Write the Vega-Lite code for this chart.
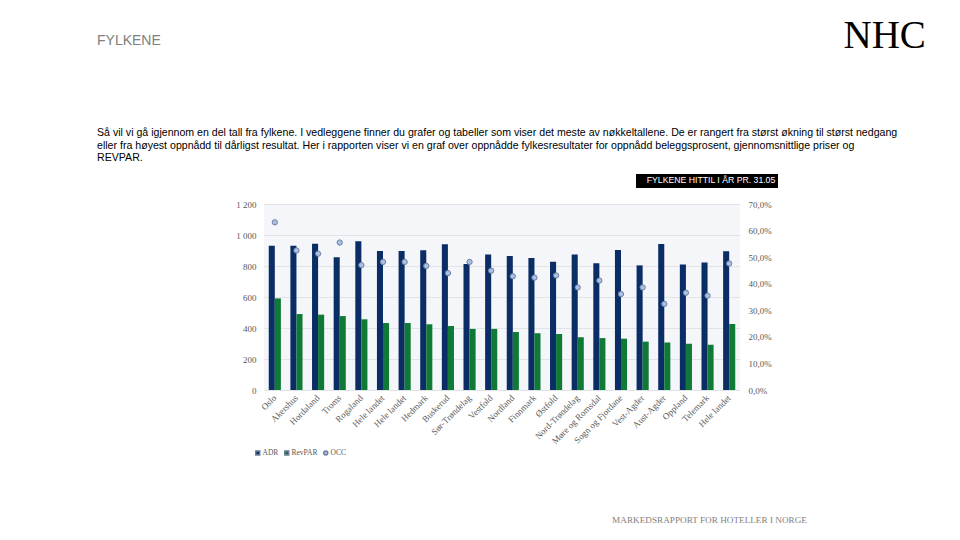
{
  "$schema": "https://vega.github.io/schema/vega-lite/v6.json",
  "width": 476,
  "height": 186,
  "autosize": {"type": "none"},
  "padding": {"left": 264, "top": 204, "right": 220, "bottom": 150},
  "background": "white",
  "title": {
    "text": "FYLKENE",
    "subtitle": [
      "Så vil vi gå igjennom en del tall fra fylkene. I vedleggene finner du grafer og tabeller som viser det meste av nøkkeltallene. De er rangert fra størst økning til størst nedgang",
      "eller fra høyest oppnådd til dårligst resultat.  Her i rapporten viser vi en graf over oppnådde fylkesresultater for oppnådd beleggsprosent, gjennomsnittlige priser og",
      "REVPAR."
    ],
    "anchor": "start",
    "frame": "group",
    "dx": -167,
    "dy": 188,
    "offset": 40,
    "font": "Liberation Sans",
    "fontSize": 14,
    "fontWeight": "normal",
    "color": "#808080",
    "subtitleFont": "Liberation Sans",
    "subtitleFontSize": 10.6,
    "subtitleColor": "#000000",
    "subtitleLineHeight": 12.7,
    "subtitlePadding": 80
  },
  "config": {
    "view": {"fill": "#f4f6f9", "stroke": null},
    "axis": {
      "domain": false,
      "ticks": false,
      "labelFont": "Liberation Serif",
      "labelFontSize": 9,
      "labelColor": "#595959"
    }
  },
  "data": {
    "values": [
      {"name": "Oslo", "ADR": 930, "RevPAR": 591, "OCC": 0.631},
      {"name": "Akershus", "ADR": 930, "RevPAR": 490, "OCC": 0.525},
      {"name": "Hordaland", "ADR": 944, "RevPAR": 486, "OCC": 0.513},
      {"name": "Troms", "ADR": 856, "RevPAR": 477, "OCC": 0.555},
      {"name": "Rogaland", "ADR": 959, "RevPAR": 456, "OCC": 0.470},
      {"name": "Hele landet", "ADR": 897, "RevPAR": 432, "OCC": 0.482},
      {"name": "Hele landet\u200b", "ADR": 897, "RevPAR": 432, "OCC": 0.482},
      {"name": "Hedmark", "ADR": 901, "RevPAR": 424, "OCC": 0.467},
      {"name": "Buskerud", "ADR": 940, "RevPAR": 413, "OCC": 0.440},
      {"name": "Sør-Trøndelag", "ADR": 813, "RevPAR": 394, "OCC": 0.482},
      {"name": "Vestfold", "ADR": 875, "RevPAR": 394, "OCC": 0.449},
      {"name": "Nordland", "ADR": 864, "RevPAR": 374, "OCC": 0.428},
      {"name": "Finnmark", "ADR": 852, "RevPAR": 366, "OCC": 0.423},
      {"name": "Østfold", "ADR": 828, "RevPAR": 361, "OCC": 0.431},
      {"name": "Nord-Trøndelag", "ADR": 875, "RevPAR": 340, "OCC": 0.386},
      {"name": "Møre og Romsdal", "ADR": 817, "RevPAR": 335, "OCC": 0.412},
      {"name": "Sogn og Fjordane", "ADR": 903, "RevPAR": 331, "OCC": 0.361},
      {"name": "Vest-Agder", "ADR": 804, "RevPAR": 312, "OCC": 0.386},
      {"name": "Aust-Agder", "ADR": 942, "RevPAR": 307, "OCC": 0.324},
      {"name": "Oppland", "ADR": 809, "RevPAR": 299, "OCC": 0.366},
      {"name": "Telemark", "ADR": 822, "RevPAR": 292, "OCC": 0.355},
      {"name": "Hele landet\u200b\u200b", "ADR": 895, "RevPAR": 426, "OCC": 0.476}
    ]
  },
  "encoding": {
    "x": {
      "field": "name",
      "type": "nominal",
      "sort": null,
      "scale": {"paddingInner": 0.44, "paddingOuter": 0.22},
      "axis": {
        "labelAngle": -45,
        "labelAlign": "right",
        "labelBaseline": "middle",
        "labelPadding": 6,
        "title": "MARKEDSRAPPORT FOR HOTELLER I NORGE",
        "titleX": 445,
        "titleY": 132,
        "titleAlign": "center",
        "titleBaseline": "alphabetic",
        "titleFont": "Liberation Serif",
        "titleFontSize": 9.2,
        "titleFontWeight": "normal",
        "titleColor": "#7f7f7f"
      }
    }
  },
  "layer": [
    {
      "transform": [{"fold": ["ADR", "RevPAR"], "as": ["key", "value"]}],
      "mark": {"type": "bar"},
      "encoding": {
        "xOffset": {"field": "key", "type": "nominal", "sort": ["ADR", "RevPAR"], "scale": {"paddingInner": 0, "paddingOuter": 0}},
        "y": {
          "field": "value",
          "type": "quantitative",
          "scale": {"domain": [0, 1200]},
          "axis": {
            "orient": "left",
            "title": null,
            "values": [0, 200, 400, 600, 800, 1000, 1200],
            "labelExpr": "replace(format(datum.value, ','), ',', ' ')",
            "labelPadding": 8,
            "grid": true,
            "gridColor": "#e1e3e7",
            "gridWidth": 1
          }
        },
        "color": {
          "field": "key",
          "type": "nominal",
          "scale": {"domain": ["ADR", "RevPAR", "OCC"], "range": ["#0b2d66", "#0e7a36", "#a9c1e8"]},
          "legend": {
            "orient": "none",
            "legendX": -10,
            "legendY": 245,
            "direction": "horizontal",
            "title": null,
            "labelFont": "Liberation Serif",
            "labelFontSize": 7.5,
            "labelColor": "#595959",
            "symbolSize": 16,
            "labelOffset": 1,
            "columnPadding": 2
          }
        },
        "strokeDash": {
          "datum": "FYLKENE HITTIL I ÅR PR. 31.05",
          "type": "nominal",
          "legend": {
            "orient": "none",
            "legendX": 372,
            "legendY": -30,
            "title": null,
            "fillColor": "#000000",
            "padding": 2,
            "labelColor": "#ffffff",
            "labelFont": "Liberation Sans",
            "labelFontSize": 8.7,
            "symbolOpacity": 0,
            "symbolSize": 0,
            "symbolStrokeWidth": 0,
            "labelOffset": 0
          }
        }
      }
    },
    {
      "transform": [{"fold": ["OCC"], "as": ["key", "value"]}],
      "mark": {"type": "point", "filled": true, "size": 28, "stroke": "#6f7f9c", "strokeWidth": 1, "opacity": 1},
      "encoding": {
        "y": {
          "field": "value",
          "type": "quantitative",
          "scale": {"domain": [0, 0.7]},
          "axis": {
            "orient": "right",
            "values": [0, 0.1, 0.2, 0.3, 0.4, 0.5, 0.6, 0.7],
            "labelExpr": "replace(format(datum.value, '.1%'), '.', ',')",
            "labelPadding": 8,
            "grid": false,
            "title": "NHC",
            "titleAngle": 0,
            "titleX": 103,
            "titleY": -157,
            "titleAlign": "left",
            "titleBaseline": "alphabetic",
            "titleFont": "Liberation Serif",
            "titleFontSize": 39,
            "titleFontWeight": "normal",
            "titleColor": "#000000"
          }
        },
        "color": {"field": "key", "type": "nominal"},
        "shape": {
          "field": "key",
          "type": "nominal",
          "scale": {"domain": ["ADR", "RevPAR", "OCC"], "range": ["square", "square", "circle"]}
        }
      }
    }
  ],
  "resolve": {"scale": {"y": "independent"}}
}
